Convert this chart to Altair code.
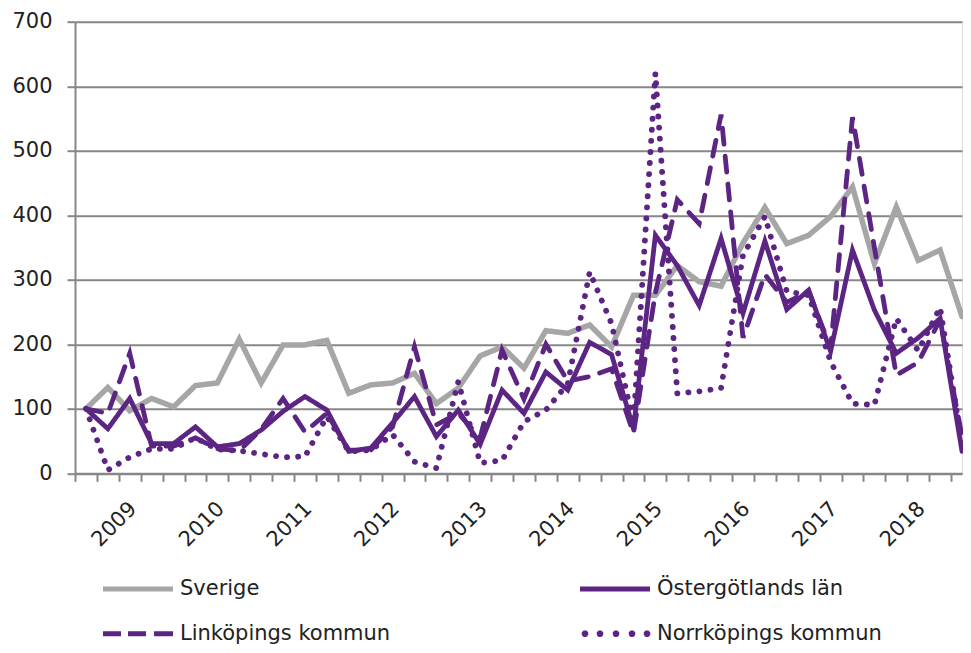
import math
import altair as alt
import pandas as pd

series = ["Sverige", "Östergötlands län", "Linköpings kommun", "Norrköpings kommun"]

sverige = [100, 133, 97, 116, 103, 136, 140, 208, 140, 199, 199, 206, 124, 137, 140, 155, 108, 132, 182, 196,
           163, 221, 217, 230, 196, 276, 276, 322, 297, 290, 357, 412, 356, 369, 398, 444, 325, 413, 330, 346, 243]
ostergotland = [100, 69, 116, 46, 46, 72, 41, 46, 67, 96, 119, 98, 34, 39, 78, 119, 57, 98, 45, 129,
                93, 157, 129, 203, 184, 69, 369, 322, 260, 364, 248, 360, 254, 284, 189, 346, 253, 186, 210, 240, 34]
linkoping = [100, 93, 186, 42, 42, 55, 38, 35, 68, 116, 64, 93, 36, 36, 72, 196, 75, 93, 55, 191,
             115, 200, 143, 150, 162, 62, 280, 424, 387, 556, 210, 308, 265, 282, 194, 552, 350, 152, 172, 238, 57]
norrkoping = [100, 5, 25, 38, 38, 55, 37, 35, 30, 25, 26, 88, 34, 36, 60, 18, 8, 142, 16, 20,
              80, 98, 139, 312, 232, 77, 620, 124, 127, 132, 338, 398, 282, 276, 173, 108, 106, 240, 190, 257, 45]

year_labels = ["2009", "2010", "2011", "2012", "2013", "2014", "2015", "2016", "2017", "2018"]
year_label_pos = [2.5, 6.5, 10.5, 14.5, 18.5, 22.5, 26.5, 30.5, 34.5, 38.5]
y_ticks = [0, 100, 200, 300, 400, 500, 600, 700]

rows = []
for name, vals in zip(series, [sverige, ostergotland, linkoping, norrkoping]):
    for i, v in enumerate(vals):
        rows.append({"serie": name, "q": i, "v": v})
df = pd.DataFrame(rows)

n = len(sverige)
tick_vals = [i - 0.5 for i in range(n + 1)]
label_expr = " : ".join(f"datum.value == {p} ? '{y}'" for p, y in zip(year_label_pos, year_labels)) + " : ''"

FONT = "DejaVu Sans"
GRID = "#878787"
GRAY = "#A6A6A6"
PURPLE = "#5C2483"
TXT = "#222222"

colors = [GRAY, PURPLE, PURPLE, PURPLE]
dashes = [[1, 0], [1, 0], [16, 12], [0.1, 11]]
widths = [5.5, 4.8, 4.8, 5.8]


# legend symbol shapes (unit = 32 px at size 4096; 70 px long strokes)
def octagon(cx, r=0.025):
    pts = []
    for k in range(8):
        a = math.radians(22.5 + 45 * k)
        pts.append(f"{cx + r * math.cos(a):.4f},{r * math.sin(a):.4f}")
    return "M" + "L".join(pts) + "Z"


shape_paths = [
    "M-1.078,0L1.109,0",
    "M-1.078,0L1.109,0",
    "M-1.078,0H-0.516M-0.297,0H0.266M0.516,0H1.109",
    "".join(octagon(c) for c in [-0.922, -0.453, 0.047, 0.547, 1.016]),
]

x_enc = alt.X("q:Q", scale=alt.Scale(domain=[-0.5, n - 1], nice=False, zero=False),
              axis=alt.Axis(values=tick_vals, labelExpr=label_expr, labelAngle=-45,
                            labelAlign="right", labelBaseline="middle", labelOffset=-7.7,
                            labelPadding=24, tickSize=8, tickColor=GRID, tickWidth=2,
                            domainColor=GRID, domainWidth=2, grid=False, title=None,
                            labelOverlap=False, labelFlush=False, labelFont=FONT,
                            labelFontSize=21, labelColor=TXT))
y_enc = alt.Y("v:Q", scale=alt.Scale(domain=[0, 700], nice=False),
              axis=alt.Axis(values=y_ticks, grid=True, gridColor=GRID, gridWidth=2,
                            tickSize=8, tickColor=GRID, tickWidth=2, domainColor=GRID,
                            domainWidth=2, labelPadding=15, title=None, labelFont=FONT,
                            labelFontSize=21, labelColor=TXT))

legend = alt.Legend(
    title=None, orient="none", legendX=28, legendY=532.5, columns=2, direction="horizontal",
    symbolSize=4096, symbolStrokeWidth=5,
    labelFont=FONT, labelFontSize=21, labelColor=TXT, labelOffset=8,
    columnPadding=179, rowPadding=0, padding=0, labelLimit=500,
)

legend_layer = alt.Chart(df).transform_filter("false").mark_point(
    filled=False, size=4096, strokeWidth=5, opacity=1
).encode(
    color=alt.Color("serie:N", scale=alt.Scale(domain=series, range=colors), legend=legend),
    shape=alt.Shape("serie:N", scale=alt.Scale(domain=series, range=shape_paths), legend=legend),
)

line_layers = []
for name, c, d, w in zip(series, colors, dashes, widths):
    line_layers.append(
        alt.Chart(df).transform_filter(alt.datum.serie == name).mark_line(
            color=c, strokeDash=d, strokeWidth=w, strokeCap="round"
        ).encode(x=x_enc, y=y_enc)
    )

chart = alt.layer(legend_layer, *line_layers).properties(
    width=887, height=451.6,
    autosize=alt.AutoSizeParams(type="none"),
    padding={"left": 67, "top": 13.7, "right": 1, "bottom": 171.5},
).configure_view(stroke=None).configure(background="white")

chart.save("out.html", embed_options={"renderer": "svg", "actions": False})
